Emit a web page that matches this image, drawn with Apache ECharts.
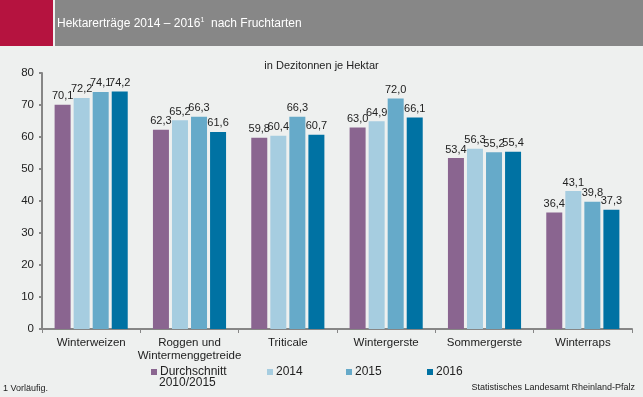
<!DOCTYPE html>
<html>
<head>
<meta charset="utf-8">
<script src="https://cdn.jsdelivr.net/npm/echarts@6/dist/echarts.min.js"></script>
<style>
  html, body { margin: 0; padding: 0; background: #eef0ef; }
  #chart { width: 643px; height: 397px; }
</style>
</head>
<body>
<div id="chart"></div>
<script>
// Kategorien und Werte (dt/ha)
var categories = ['Winterweizen', 'Roggen und\nWintermenggetreide', 'Triticale', 'Wintergerste', 'Sommergerste', 'Winterraps'];
var seriesNames = ['Durchschnitt 2010/2015', '2014', '2015', '2016'];
var avg1015 = [70.1, 62.3, 59.8, 63.0, 53.4, 36.4];
var y2014 = [72.2, 65.2, 60.4, 64.9, 56.3, 43.1];
var y2015 = [74.1, 66.3, 66.3, 72.0, 55.2, 39.8];
var y2016 = [74.2, 61.6, 60.7, 66.1, 55.4, 37.3];
var colors = ['#8a6590', '#a6cde0', '#66aac9', '#0072a3'];

var font = 'Liberation Sans, Arial, sans-serif';
var myChart = echarts.init(document.getElementById('chart'));

function bar(name, data, color) {
  return {
    name: name,
    type: 'bar',
    data: data,
    barWidth: 16,
    barGap: '19%',
    itemStyle: { color: color },
    label: {
      show: true,
      position: 'top',
      distance: 3,
      color: '#222',
      fontFamily: font,
      fontSize: 11,
      formatter: function (p) { return p.value.toFixed(1).replace('.', ','); }
    }
  };
}

var legendPos = [152, 268, 347, 428];
var legends = seriesNames.map(function (n, i) {
  return {
    data: [n],
    left: legendPos[i] - 1,
    top: 366,
    icon: 'rect',
    itemWidth: 6,
    itemHeight: 6,
    itemGap: 0,
    padding: 0,
    selectedMode: false,
    formatter: function (name) { return name === seriesNames[0] ? 'Durchschnitt' : name; },
    textStyle: { fontFamily: font, fontSize: 12, color: '#222', padding: [0, 0, 0, -2] }
  };
});

myChart.setOption({
  backgroundColor: '#eef0ef',
  animation: false,
  color: colors,
  grid: { left: 42, right: 11, top: 73, bottom: 68 },
  legend: legends,
  xAxis: {
    type: 'category',
    data: categories,
    axisLine: { lineStyle: { color: '#868686', width: 2 } },
    axisTick: { show: true, length: 4, lineStyle: { color: '#868686', width: 1 } },
    axisLabel: { color: '#222', fontFamily: font, fontSize: 11.5, margin: 7, lineHeight: 13, interval: 0 }
  },
  yAxis: {
    type: 'value',
    min: 0,
    max: 80,
    interval: 10,
    splitLine: { show: false },
    axisLine: { show: true, lineStyle: { color: '#868686', width: 2 } },
    axisTick: { show: true, length: 3, lineStyle: { color: '#868686', width: 2 } },
    axisLabel: { color: '#222', fontFamily: font, fontSize: 11.5, margin: 8 }
  },
  series: [
    bar(seriesNames[0], avg1015, colors[0]),
    bar(seriesNames[1], y2014, colors[1]),
    bar(seriesNames[2], y2015, colors[2]),
    bar(seriesNames[3], y2016, colors[3])
  ],
  graphic: [
    { type: 'rect', left: 0, top: 0, shape: { width: 53, height: 46 }, style: { fill: '#b5133f' } },
    { type: 'rect', left: 55, top: 0, shape: { width: 588, height: 46 }, style: { fill: '#878787' } },
    {
      type: 'text', left: 57, top: 17,
      style: {
        text: '{t|Hektarerträge 2014 – 2016}{s|1}{t|  nach Fruchtarten}',
        rich: {
          t: { fontFamily: font, fontSize: 12, fill: '#fff' },
          s: { fontFamily: font, fontSize: 7, fill: '#fff', verticalAlign: 'top', padding: [0, 0, 6, 0] }
        }
      }
    },
    {
      type: 'text', left: 'center', top: 60,
      style: { text: 'in Dezitonnen je Hektar', fontFamily: font, fontSize: 11, fill: '#222' }
    },
    {
      type: 'text', left: 159, top: 377,
      style: { text: '2010/2015', fontFamily: font, fontSize: 12, fill: '#222' }
    },
    {
      type: 'text', left: 3, top: 384,
      style: { text: '1 Vorläufig.', fontFamily: font, fontSize: 9, fill: '#222' }
    },
    {
      type: 'text', right: 8, top: 383,
      style: { text: 'Statistisches Landesamt Rheinland-Pfalz', fontFamily: font, fontSize: 9, fill: '#222' }
    }
  ]
});
</script>
</body>
</html>
